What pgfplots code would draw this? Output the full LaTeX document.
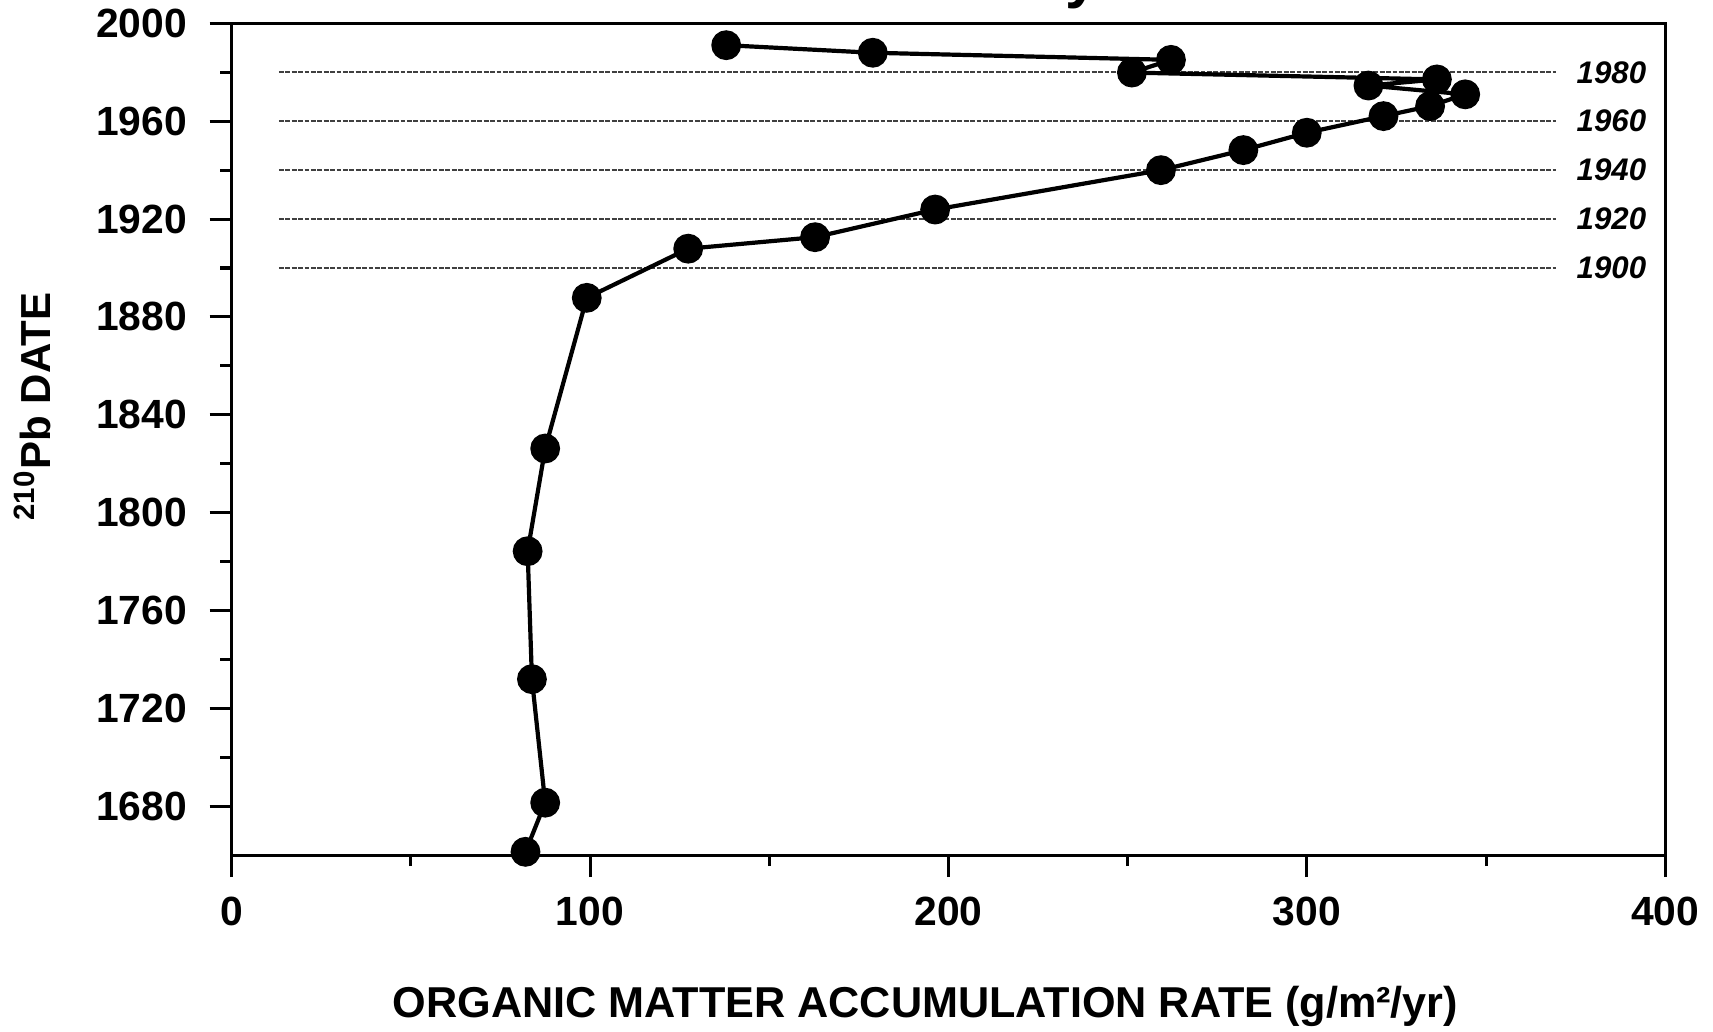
\documentclass[border=0pt]{standalone}
\usepackage{fontspec}
\setmainfont{Liberation Sans}
\usepackage{pgfplots}
\usepackage{pgfplotstable}
\pgfplotsset{compat=1.18}

\tikzset{
  datelabel/.style={font=\fontsize{7.8}{8}\selectfont\bfseries\itshape, anchor=center},
  refline/.style={black!75, line width=0.45pt, dash pattern=on 1.2pt off 0.4pt},
}

% organic matter accumulation rate vs 210Pb date
\pgfplotstableread{
rate  year
138.0 1991.1
178.9 1988.0
262.1 1985.1
251.2 1979.9
336.3 1977.1
317.2 1974.6
344.2 1971.0
334.4 1966.2
321.4 1962.1
300.0 1955.3
282.3 1948.2
259.3 1940.0
196.3 1923.9
162.8 1912.6
127.4 1907.9
99.1  1887.8
87.5  1826.2
82.6  1784.2
83.8  1731.9
87.5  1681.4
82.0  1661.3
}\omdata

\begin{document}
\begin{tikzpicture}
\begin{axis}[
  scale only axis, width=358.4pt, height=207.9pt,
  xmin=0, xmax=400, ymin=1660, ymax=2000,
  xtick={0,100,200,300,400}, ytick={1680,1720,...,2000},
  minor x tick num=1, minor y tick num=1,
  tick align=outside, xtick pos=lower, ytick pos=left,
  major tick length=5.5pt, minor tick length=2.8pt,
  axis line style={line width=0.75pt},
  tick style={black, line width=0.75pt},
  /pgf/number format/assume math mode=true,
  /pgf/number format/1000 sep={},
  scaled ticks=false,
  tick label style={font=\fontsize{10.2}{11}\selectfont\bfseries, inner sep=0pt},
  xticklabel style={anchor=center, yshift=-8.5pt},
  yticklabel style={anchor=east, xshift=-5.5pt},
  xlabel={ORGANIC MATTER ACCUMULATION RATE (g/m²/yr)},
  ylabel={\textsuperscript{210}Pb DATE},
  xlabel style={font=\fontsize{10.8}{12}\selectfont\bfseries, at={(axis description cs:0.484,-0.182)}, anchor=center},
  ylabel style={font=\fontsize{10.5}{12}\selectfont\bfseries, at={(axis description cs:-0.139,0.539)}, anchor=center},
  clip=false,
]
\addplot[refline] coordinates {(13.2,1900) (369.5,1900)};
\addplot[refline] coordinates {(13.2,1920) (369.5,1920)};
\addplot[refline] coordinates {(13.2,1940) (369.5,1940)};
\addplot[refline] coordinates {(13.2,1960) (369.5,1960)};
\addplot[refline] coordinates {(13.2,1980) (369.5,1980)};

\addplot[black, line width=1.05pt, mark=*, mark size=3.2pt, mark options={solid, fill=black}]
  table[x=rate, y=year] {\omdata};

\node[datelabel] at (axis cs:385,1900) {1900};
\node[datelabel] at (axis cs:385,1920) {1920};
\node[datelabel] at (axis cs:385,1940) {1940};
\node[datelabel] at (axis cs:385,1960) {1960};
\node[datelabel] at (axis cs:385,1980) {1980};

% descender of the title, cut off at the top of the page
\node[font=\fontsize{15}{18}\selectfont\bfseries, anchor=base]
  at ([yshift=6.8pt]axis description cs:0.593,1) {y};
\end{axis}
\pgfresetboundingbox
\path[use as bounding box] (-57.9pt,-44pt) rectangle (370.35pt,213.75pt);
\end{tikzpicture}
\end{document}
